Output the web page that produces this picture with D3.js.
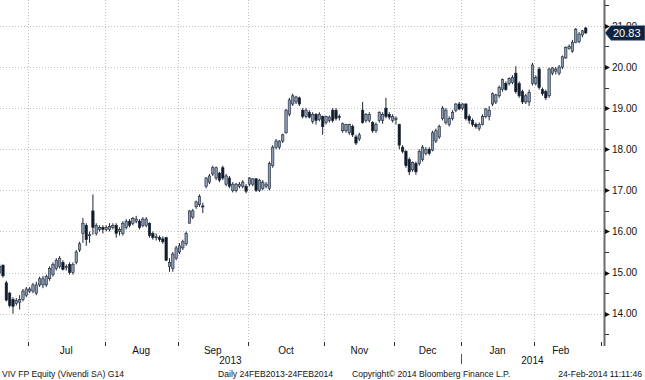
<!DOCTYPE html>
<html><head><meta charset="utf-8">
<script src="https://cdn.jsdelivr.net/npm/d3@7"></script>
<style>
html,body{margin:0;padding:0;background:#fff;}
svg{display:block;font-family:"Liberation Sans",Arial,sans-serif;}
</style></head>
<body>
<svg id="c" width="645" height="380"></svg>
<script>
// ---- data (VIV FP Equity daily OHLC) ----
const monthLabels = ["Jul","Aug","Sep","Oct","Nov","Dec","Jan","Feb"];
const monthStartIdx = [9,32,54,75,98,119,139,161];
const yearLabels = ["2013","2014"];
const yTicks = [14,15,16,17,18,19,20,21];
const lastPrice = 20.83;
const footer = ["VIV FP Equity (Vivendi SA) G14","Daily 24FEB2013-24FEB2014","Copyright\u00a9 2014 Bloomberg Finance L.P.","24-Feb-2014 11:11:46"];

const open = [15.00,15.18,14.75,14.50,14.35,14.25,14.28,14.35,14.45,
14.55,14.55,14.50,14.70,14.70,14.70,14.85,14.95,15.10,15.15,15.25,15.12,15.20,15.00,15.25,15.55,15.95,16.15,15.90,16.50,15.95,16.05,16.10,
16.05,16.05,16.10,16.15,16.00,15.95,16.10,16.25,16.20,16.25,16.25,16.15,16.15,16.20,15.95,15.85,15.85,15.82,15.85,15.15,15.10,15.35,
15.50,15.60,15.70,16.20,16.35,16.60,16.65,16.62,17.10,17.20,17.40,17.30,17.42,17.55,17.15,17.30,17.00,17.00,17.10,17.10,17.10,
17.15,17.15,17.28,17.00,17.05,17.10,17.05,17.60,18.05,18.05,18.20,18.40,18.85,19.10,19.15,19.25,18.95,18.80,18.90,18.68,18.85,18.72,18.80,
18.65,18.70,18.95,18.95,18.80,18.45,18.45,18.40,18.55,18.30,18.25,18.95,18.70,18.70,18.65,18.45,18.70,18.70,19.00,18.85,18.70,
18.72,18.60,18.05,17.95,17.75,17.50,17.65,17.65,17.75,17.90,18.00,17.98,18.20,18.30,18.75,18.65,18.60,18.75,18.95,19.10,
19.00,19.10,18.80,18.70,18.60,18.50,18.60,18.80,18.80,19.10,19.15,19.30,19.45,19.60,19.60,19.62,19.85,19.60,19.40,19.15,19.15,19.60,
19.60,19.95,19.45,19.40,19.30,19.85,19.90,19.85,20.00,20.22,20.45,20.38,20.60,20.62,20.78,20.95];
const high = [15.22,15.20,14.80,14.53,14.40,14.38,14.45,14.60,14.65,
14.65,14.75,14.78,14.90,14.92,14.95,15.15,15.25,15.35,15.40,15.30,15.20,15.25,15.25,15.55,15.75,16.33,16.20,16.00,16.90,16.20,16.15,16.15,
16.15,16.20,16.20,16.20,16.10,16.25,16.30,16.30,16.35,16.38,16.30,16.35,16.35,16.22,16.00,15.95,15.90,15.88,15.87,15.35,15.50,15.65,
15.72,15.80,16.00,16.52,16.55,16.75,16.90,16.70,17.32,17.40,17.60,17.58,17.45,17.60,17.40,17.35,17.20,17.18,17.20,17.25,17.15,
17.32,17.30,17.30,17.28,17.25,17.20,17.70,18.10,18.25,18.22,18.38,18.98,19.25,19.35,19.30,19.28,19.00,19.00,18.95,18.90,18.88,18.90,18.82,
18.82,18.82,19.00,19.00,18.85,18.65,18.62,18.62,18.60,18.35,18.40,19.15,18.88,18.90,18.68,18.65,18.92,18.90,19.25,18.90,18.85,
18.80,18.62,18.10,17.98,17.80,17.70,17.70,18.00,18.10,18.05,18.05,18.45,18.50,18.60,19.05,19.00,18.80,18.95,19.12,19.15,
19.12,19.12,18.85,18.75,18.65,18.65,18.85,19.00,19.05,19.38,19.35,19.55,19.72,19.65,19.75,19.80,20.02,19.65,19.45,19.35,19.45,20.10,
19.80,20.00,19.50,19.45,19.98,20.00,20.00,20.05,20.28,20.50,20.55,20.66,20.95,20.85,20.90,20.97];
const low = [14.93,14.88,14.30,14.15,14.00,14.20,14.10,14.30,14.40,
14.50,14.50,14.45,14.65,14.62,14.65,14.80,14.90,15.05,15.10,15.05,15.05,14.95,14.95,15.20,15.50,15.72,15.65,15.72,15.92,15.90,16.00,15.95,
16.00,16.00,16.05,15.85,15.90,15.90,16.05,16.10,16.15,16.20,16.05,16.10,16.10,15.85,15.80,15.78,15.75,15.70,15.28,15.02,15.02,15.30,
15.45,15.55,15.65,16.20,16.30,16.55,16.60,16.45,17.05,17.15,17.35,17.25,17.20,17.25,17.10,17.05,16.95,16.95,17.05,17.05,16.93,
17.10,17.10,16.96,16.96,17.00,17.05,17.00,17.55,18.00,18.00,18.15,18.38,18.80,19.05,19.10,19.05,18.75,18.75,18.75,18.62,18.60,18.68,18.35,
18.60,18.65,18.65,18.70,18.70,18.40,18.40,18.35,18.30,18.10,18.20,18.62,18.65,18.65,18.40,18.40,18.65,18.62,18.75,18.72,18.65,
18.60,18.00,17.90,17.55,17.37,17.45,17.38,17.60,17.70,17.85,17.85,17.95,18.15,18.25,18.70,18.60,18.55,18.70,18.90,18.95,
18.95,18.70,18.62,18.55,18.50,18.45,18.58,18.75,18.70,19.05,19.10,19.25,19.40,19.42,19.55,19.58,19.35,19.25,19.10,19.10,19.05,19.55,
19.55,19.45,19.30,19.20,19.25,19.80,19.82,19.80,19.95,20.20,20.42,20.35,20.58,20.58,20.72,20.80];
const close = [15.15,14.92,14.33,14.20,14.18,14.32,14.35,14.55,14.60,
14.60,14.70,14.70,14.85,14.85,14.90,15.10,15.20,15.30,15.35,15.08,15.15,15.00,15.20,15.50,15.70,16.20,15.80,15.92,16.10,16.15,16.10,16.05,
16.10,16.12,16.15,15.95,16.05,16.20,16.25,16.15,16.32,16.30,16.10,16.30,16.30,15.90,15.85,15.87,15.80,15.75,15.30,15.25,15.45,15.60,
15.65,15.75,15.95,16.50,16.50,16.72,16.85,16.60,17.30,17.35,17.55,17.55,17.25,17.30,17.35,17.10,17.15,17.15,17.15,17.20,16.98,
17.30,17.28,17.00,17.25,17.20,17.15,17.65,18.05,18.20,18.20,18.35,18.95,19.20,19.30,19.27,19.10,18.80,18.95,18.78,18.85,18.70,18.85,18.55,
18.80,18.78,18.70,18.75,18.78,18.62,18.60,18.60,18.35,18.15,18.35,18.65,18.85,18.85,18.45,18.60,18.90,18.85,18.80,18.78,18.80,
18.75,18.10,17.95,17.60,17.45,17.68,17.45,17.95,18.05,18.00,17.90,18.40,18.45,18.55,19.00,18.95,18.75,18.90,19.10,18.98,
19.10,18.75,18.70,18.60,18.55,18.60,18.80,18.98,18.95,19.35,19.32,19.50,19.70,19.45,19.72,19.75,19.40,19.30,19.15,19.30,19.38,20.05,
19.75,19.50,19.35,19.25,19.95,19.98,19.95,20.00,20.25,20.48,20.50,20.60,20.92,20.80,20.88,20.83];

// ---- layout ----
const W = 645, H = 380;
const plotRight = 604, plotBottom = 340;
const svg = d3.select("#c");

const idx = d3.range(close.length);
const x = d3.scaleLinear().domain([0, close.length - 1]).range([-0.33, -0.33 + 3.33 * (close.length - 1)]);
const y = d3.scaleLinear().domain([13.36, 21.63]).range([plotBottom, 0]);

const monthEdges = monthStartIdx.map(i => x(i - 0.5));
const monthEnds = monthStartIdx.slice(1).map(i => i - 1).concat([close.length - 1]);

// gridlines
const grid = svg.append("g").attr("stroke", "#c4c4c4").attr("stroke-width", 1).attr("stroke-dasharray", "1,2");
grid.selectAll("line.h").data(yTicks).join("line")
  .attr("x1", 0).attr("x2", plotRight).attr("y1", d => Math.round(y(d)) + 0.5).attr("y2", d => Math.round(y(d)) + 0.5);
grid.selectAll("line.v").data(monthEdges).join("line")
  .attr("x1", d => Math.round(d) + 0.5).attr("x2", d => Math.round(d) + 0.5).attr("y1", 0).attr("y2", plotBottom);

// candles
svg.append("clipPath").attr("id", "pc").append("rect").attr("x", 0).attr("y", 0).attr("width", plotRight).attr("height", plotBottom);
const cg = svg.append("g").attr("clip-path", "url(#pc)");
const upFill = "#8a9bb2", downFill = "#0f1a2b", edge = "#1c2535";
const candle = cg.selectAll("g.k").data(idx).join("g");
candle.append("line")
  .attr("x1", i => x(i)).attr("x2", i => x(i))
  .attr("y1", i => y(high[i])).attr("y2", i => y(low[i]))
  .attr("stroke", edge).attr("stroke-width", 1);
candle.append("rect")
  .attr("x", i => x(i) - 1.2).attr("width", 2.4)
  .attr("y", i => y(Math.max(open[i], close[i])))
  .attr("height", i => Math.max(1, Math.abs(y(open[i]) - y(close[i]))))
  .attr("fill", i => close[i] >= open[i] ? upFill : downFill)
  .attr("stroke", edge).attr("stroke-width", 0.6);

// right axis
const ax = svg.append("g");
ax.append("line").attr("x1", plotRight + 0.5).attr("x2", plotRight + 0.5).attr("y1", 0).attr("y2", plotBottom + 6)
  .attr("stroke", "#6a6a6a").attr("stroke-width", 2);
const minor = yTicks.map(d => d + 0.5).concat([13.5]);
ax.selectAll("line.mn").data(minor).join("line")
  .attr("x1", plotRight + 1).attr("x2", plotRight + 5).attr("y1", d => Math.round(y(d)) + 0.5).attr("y2", d => Math.round(y(d)) + 0.5)
  .attr("stroke", "#333").attr("stroke-width", 1);
ax.selectAll("path.mj").data(yTicks).join("path")
  .attr("d", d => { const yy = Math.round(y(d)) + 0.5; return `M${plotRight+1},${yy-2.5}L${plotRight+6},${yy}L${plotRight+1},${yy+2.5}Z`; })
  .attr("fill", "#111");
ax.selectAll("text.yl").data(yTicks).join("text")
  .attr("x", plotRight + 8).attr("y", d => y(d) + 3.6)
  .attr("font-size", 10).attr("fill", "#111")
  .text(d => d3.format(".2f")(d));

// last price tag
const ly = y(lastPrice);
svg.append("path")
  .attr("d", `M${plotRight+1},${ly}L${plotRight+7},${ly-7.5}L${W},${ly-7.5}L${W},${ly+7.5}L${plotRight+7},${ly+7.5}Z`)
  .attr("fill", "#0d2440").attr("stroke", "#8fa0b8").attr("stroke-width", 0.6);
svg.append("text").attr("x", plotRight + 9).attr("y", ly + 4).attr("font-size", 11).attr("fill", "#fff")
  .text(d3.format(".2f")(lastPrice));

// bottom axis
const bx = svg.append("g");
bx.selectAll("line.t").data(monthEdges.concat([plotRight - 3])).join("line")
  .attr("x1", d => Math.round(d) + 0.5).attr("x2", d => Math.round(d) + 0.5).attr("y1", plotBottom + 2).attr("y2", plotBottom + 6)
  .attr("stroke", "#333");
bx.selectAll("text.m").data(monthLabels).join("text")
  .attr("x", (d, k) => (x(monthStartIdx[k] - 0.5) + x(monthEnds[k] + 0.5)) / 2)
  .attr("y", 354).attr("text-anchor", "middle").attr("font-size", 10).attr("fill", "#111")
  .text(d => d);
const yearSplit = x(monthStartIdx[6] - 0.5);
bx.append("text").attr("x", yearSplit / 2).attr("y", 364).attr("text-anchor", "middle").attr("font-size", 10).attr("fill", "#111").text(yearLabels[0]);
bx.append("text").attr("x", (yearSplit + plotRight) / 2).attr("y", 364).attr("text-anchor", "middle").attr("font-size", 10).attr("fill", "#111").text(yearLabels[1]);
bx.append("line").attr("x1", Math.round(yearSplit) + 0.5).attr("x2", Math.round(yearSplit) + 0.5).attr("y1", 354).attr("y2", 364).attr("stroke", "#555");

// footer
const fx = [2, 218, 352, 642];
const fa = ["start", "start", "start", "end"];
svg.selectAll("text.f").data(footer).join("text")
  .attr("x", (d, k) => fx[k]).attr("y", 377).attr("font-size", 8.6).attr("fill", "#111")
  .attr("text-anchor", (d, k) => fa[k])
  .text(d => d);
</script>
</body></html>
